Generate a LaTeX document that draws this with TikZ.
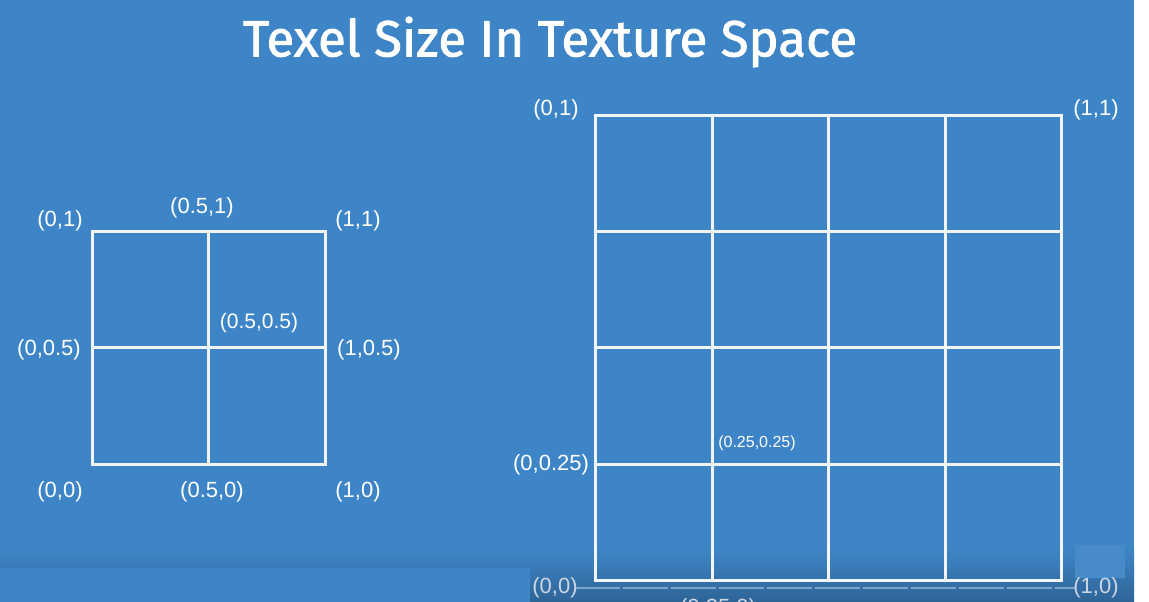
\documentclass[tikz,border=0pt]{standalone}
\usepackage{fontspec}
\setmainfont{Liberation Sans}
\newfontfamily\titlefont[FakeBold=1.6]{Fira Sans}
\definecolor{bgblue}{RGB}{61,133,198}
\definecolor{bgdark}{RGB}{56,122,182}
\definecolor{bgdarker}{RGB}{46,100,150}
\definecolor{gridwhite}{RGB}{242,245,248}
\definecolor{dimwhite}{RGB}{205,215,228}
\begin{document}
\begin{tikzpicture}[x=1pt,y=-1pt,
  lbl/.style={text=white,inner sep=0pt,font=\fontsize{22}{26}\selectfont},
  lblsmall/.style={text=white,inner sep=0pt,font=\fontsize{16}{19}\selectfont},
  lbldim/.style={text=dimwhite,inner sep=0pt,font=\fontsize{22}{26}\selectfont},
  gridline/.style={draw=gridwhite,line width=3pt}]
\useasboundingbox (0,0) rectangle (1149,602);
\clip (0,0) rectangle (1149,602);
% background
\fill[white] (0,0) rectangle (1149,602);
\fill[bgblue] (0,0) rectangle (1134,602);
\shade[top color=bgblue,bottom color=bgdark] (0,548) rectangle (1134,568);
\shade[top color=bgdark,bottom color=bgdarker] (530,568) rectangle (1134,602);
\fill[bgblue] (0,568) rectangle (530,602);
\fill[bgblue!95!white] (1075,545) rectangle (1125,578);
\draw[dimwhite!45!bgdark,line width=1.5pt,dash pattern=on 45pt off 3pt] (575,588) -- (1075,588);
% title
\node[text=white,inner sep=0pt] (title) at (550,42)
  {\resizebox{614pt}{!}{\titlefont Texel Size In Texture Space}};
% left grid
\draw[gridline] (92,231) rectangle (325,464);
\draw[gridline] (208,231) -- (208,464);
\draw[gridline] (92,347) -- (325,347);
% right grid
\draw[gridline] (595,115) rectangle (1061,580);
\foreach \v in {712,828,945} \draw[gridline] (\v,115) -- (\v,580);
\foreach \v in {231,347,464} \draw[gridline] (595,\v) -- (1061,\v);
% left labels
\node[lbl] (l01) at (60,221) {(0,1)};
\node[lbl] (l051) at (202,208) {(0.5,1)};
\node[lbl] (l11) at (358,221) {(1,1)};
\node[lbl] (l005) at (49,350) {(0,0.5)};
\node[lbl,font=\fontsize{21}{25}\selectfont] (l0505) at (259,323) {(0.5,0.5)};
\node[lbl] (l105) at (369,350) {(1,0.5)};
\node[lbl] (l00) at (60,492) {(0,0)};
\node[lbl] (l050) at (212,492) {(0.5,0)};
\node[lbl] (l10) at (358,492) {(1,0)};
% right labels
\node[lbl] (r01) at (556,110) {(0,1)};
\node[lbl] (r11) at (1096,110) {(1,1)};
\node[lbl] (r0025) at (551,465) {(0,0.25)};
\node[lblsmall] (r2525) at (757,443) {(0.25,0.25)};
\node[lbldim] (r00) at (555,588) {(0,0)};
\node[lbldim] (r10) at (1096,588) {(1,0)};
\node[lbldim] (r250) at (718,609) {(0.25,0)};
\end{tikzpicture}
\end{document}
